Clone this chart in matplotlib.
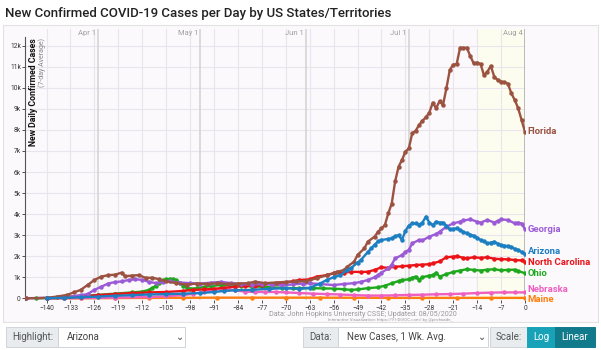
import matplotlib.pyplot as plt
from matplotlib.patches import Rectangle

# valeurs (milliers de cas, moyenne 7 jours), jour 0 = Aug 4
fl_jours = [-146, -140, -137, -134, -132, -130, -128, -126, -124, -122, -120, -118, -117, -115,
            -113, -111, -109, -107, -105, -102, -99, -96, -93, -90, -87, -84, -81, -79, -76, -73,
            -70, -67, -64, -61, -58, -56, -55, -53, -52, -50, -49, -47, -46, -44, -43, -42, -41,
            -40, -39, -38, -37, -36, -35, -34, -33, -32, -31, -30, -29, -28, -27, -26, -25, -24,
            -23, -22, -21, -20, -19, -18, -17, -16, -15, -14, -13, -12, -11, -10, -9, -8, -7,
            -6, -5, -4, -3, -2, -1, 0]
fl_cas = [0, 0.02, 0.08, 0.16, 0.28, 0.4, 0.63, 0.87, 1.03, 1.1, 1.12, 1.22, 1.05, 1.08,
          1.1, 0.97, 0.98, 0.9, 0.8, 0.72, 0.65, 0.7, 0.68, 0.72, 0.68, 0.7, 0.72, 0.79, 0.72, 0.75,
          0.78, 0.8, 0.82, 0.95, 1.1, 1.19, 1.26, 1.34, 1.5, 1.74, 2.06, 2.37, 2.69, 2.93, 3.16, 3.32, 3.48,
          4.04, 4.5, 5.55, 6.25, 6.57, 6.96, 7.12, 7.84, 7.96, 8.23, 8.44, 8.6, 8.82, 9.29, 9.03, 9.37, 9.18,
          9.98, 10.85, 11.1, 11.13, 11.9, 11.9, 11.9, 11.5, 11.16, 11.2, 11.13, 10.6, 10.77, 11.04, 10.53, 10.37, 10.3,
          10.27, 10.2, 9.74, 9.42, 9.03, 8.47, 7.91]

ga_jours = [-146, -140, -135, -130, -128, -126, -124, -122, -120, -118, -116, -114, -112, -110,
            -108, -106, -104, -101, -98, -95, -92, -89, -86, -83, -80, -77, -74, -71, -68, -65,
            -63, -60, -56, -53, -50, -48, -46, -44, -43, -42, -40, -39, -38, -36, -35, -34, -33,
            -31, -30, -28, -26, -25, -23, -21, -19, -18, -16, -14, -13, -11, -9, -8, -7, -5, -3,
            -2, -1, 0]
ga_cas = [0, 0.02, 0.05, 0.15, 0.2, 0.4, 0.55, 0.7, 0.77, 0.8, 0.87, 0.9, 0.88, 0.78,
          0.72, 0.76, 0.8, 0.75, 0.72, 0.7, 0.74, 0.78, 0.72, 0.68, 0.65, 0.68, 0.65, 0.62, 0.66, 0.7,
          0.71, 0.68, 0.63, 0.68, 0.72, 0.78, 0.87, 1.0, 1.1, 1.22, 1.42, 1.6, 1.9, 2.05, 2.21, 2.3, 2.61,
          2.77, 2.75, 2.93, 3.05, 3.16, 3.4, 3.56, 3.64, 3.7, 3.75, 3.64, 3.6, 3.72, 3.6, 3.68, 3.75, 3.72, 3.56,
          3.6, 3.55, 3.28]

az_jours = [-140, -135, -130, -125, -120, -115, -110, -105, -100, -95, -91, -88, -85, -80, -75,
            -70, -66, -63, -60, -58, -56, -54, -52, -51, -49, -48, -46, -45, -44, -43, -42, -40,
            -39, -38, -37, -36, -35, -34, -33, -32, -31, -30, -29, -28, -27, -26, -25, -24, -23,
            -22, -21, -20, -19, -18, -17, -16, -15, -14, -13, -12, -11, -10, -9, -8, -7, -6, -5,
            -4, -3, -2, -1, 0]
az_cas = [0, 0.02, 0.05, 0.08, 0.12, 0.15, 0.18, 0.2, 0.22, 0.25, 0.3, 0.35, 0.38, 0.4, 0.45,
          0.48, 0.45, 0.5, 0.7, 0.87, 1.0, 1.1, 1.35, 1.42, 1.7, 1.82, 2.2, 2.37, 2.55, 2.7, 2.77, 2.82,
          2.85, 2.95, 3.0, 2.77, 3.2, 3.45, 3.56, 3.56, 3.5, 3.6, 3.88, 3.6, 3.48, 3.64, 3.6, 3.6, 3.45,
          3.28, 3.3, 3.32, 3.25, 3.15, 3.09, 3.02, 2.97, 2.88, 2.77, 2.7, 2.61, 2.65, 2.69, 2.6, 2.53, 2.5, 2.48,
          2.45, 2.35, 2.29, 2.2, 2.1]

nc_jours = [-140, -135, -130, -125, -120, -115, -110, -105, -100, -97, -94, -91, -88, -85, -82,
            -79, -77, -74, -71, -68, -66, -63, -61, -58, -56, -53, -51, -48, -46, -44, -42, -40,
            -38, -36, -34, -32, -30, -28, -27, -25, -23, -21, -20, -18, -17, -15, -13, -11, -9,
            -7, -5, -3, -1, 0]
nc_cas = [0, 0.03, 0.08, 0.15, 0.2, 0.25, 0.28, 0.3, 0.35, 0.4, 0.42, 0.45, 0.5, 0.55, 0.58,
          0.6, 0.63, 0.7, 0.75, 0.8, 0.87, 0.9, 1.03, 1.1, 1.19, 1.22, 1.26, 1.25, 1.26, 1.35, 1.47, 1.45,
          1.5, 1.52, 1.55, 1.58, 1.6, 1.62, 1.66, 1.75, 1.95, 1.98, 2.0, 1.92, 1.9, 1.95, 1.92, 1.95, 1.88,
          1.86, 1.85, 1.82, 1.8, 1.74]

oh_jours = [-143, -140, -135, -130, -125, -120, -115, -112, -110, -109, -108, -107, -106, -105,
            -104, -103, -102, -101, -100, -99, -98, -96, -94, -92, -89, -86, -83, -80, -77, -74,
            -71, -68, -66, -62, -59, -56, -53, -51, -49, -46, -43, -41, -39, -37, -36, -34, -33,
            -32, -31, -30, -28, -27, -26, -25, -23, -21, -19, -17, -15, -13, -11, -9, -7, -5, -3,
            -2, 0]
oh_cas = [0, 0.01, 0.05, 0.1, 0.16, 0.22, 0.28, 0.32, 0.4, 0.5, 0.6, 0.75, 0.85, 0.9,
          0.92, 0.9, 0.85, 0.75, 0.6, 0.5, 0.46, 0.48, 0.53, 0.58, 0.63, 0.62, 0.6, 0.56, 0.55, 0.52,
          0.5, 0.48, 0.48, 0.48, 0.47, 0.46, 0.43, 0.4, 0.42, 0.48, 0.52, 0.6, 0.71, 0.82, 0.87, 0.9, 0.98,
          1.03, 0.88, 1.0, 1.08, 1.1, 1.22, 1.03, 1.15, 1.25, 1.32, 1.38, 1.35, 1.32, 1.36, 1.38, 1.33, 1.35, 1.36,
          1.3, 1.19]

ne_jours = [-140, -130, -120, -110, -105, -100, -97, -94, -91, -89, -87, -85, -82, -79, -76,
            -73, -70, -66, -62, -58, -54, -50, -46, -42, -38, -34, -30, -26, -22, -18, -14, -10,
            -6, -3, 0]
ne_cas = [0, 0.01, 0.03, 0.06, 0.1, 0.15, 0.22, 0.3, 0.4, 0.45, 0.44, 0.38, 0.32, 0.3, 0.3,
          0.3, 0.28, 0.25, 0.22, 0.2, 0.18, 0.15, 0.13, 0.13, 0.14, 0.16, 0.17, 0.19, 0.2, 0.22, 0.25, 0.27,
          0.28, 0.28, 0.28]

me_jours = [-140, -130, -120, -110, -100, -90, -80, -70, -60, -50, -40, -30, -20, -10, 0]
me_cas = [0, 0, 0.01, 0.02, 0.025, 0.03, 0.03, 0.03, 0.03, 0.025, 0.02, 0.02, 0.02, 0.02, 0.02]

# (nom, jours, valeurs, couleur, décalage vertical de l'étiquette en milliers)
etats = [
    ("Maine", me_jours, me_cas, "#ff7f0e", -0.06),
    ("Nebraska", ne_jours, ne_cas, "#ee5fc0", 0.15),
    ("Ohio", oh_jours, oh_cas, "#1ea81e", 0),
    ("North Carolina", nc_jours, nc_cas, "#ec1318", -0.03),
    ("Georgia", ga_jours, ga_cas, "#9c5bd6", 0),
    ("Florida", fl_jours, fl_cas, "#9b5240", 0),
    ("Arizona", az_jours, az_cas, "#1c7fc2", 0.12),
]

mois_jours = [-125, -95, -64, -34, 0]
mois_noms = ["Apr 1", "May 1", "Jun 1", "Jul 1", "Aug 4"]

W, H = 601, 350
plt.rcParams['font.family'] = ['Roboto', 'DejaVu Sans']
fig = plt.figure(figsize=(W / 100, H / 100), dpi=100, facecolor="white")

# cadre du graphique
fig.patches.append(Rectangle((3 / W, 1 - 322 / H), 595 / W, 297 / H, transform=fig.transFigure,
                             facecolor="#fbf9fc", edgecolor="#e2e2e2", lw=0.8, zorder=-10))

ax = fig.add_axes([25 / W, 1 - 300.4 / H, 500 / W, 271.5 / H])
ax.set_facecolor("none")
ax.set_xlim(-146.3, 0)
ax.set_ylim(-0.1, 12.8)

ax.axvspan(-14, 0, color="#fdfdef", zorder=0)
for d in range(-140, 1, 7):
    ax.axvline(d, color="#e9e4ee", lw=0.8, zorder=1)
for v in range(0, 13):
    ax.axhline(v, color="#e9e4ee", lw=0.8, zorder=1)
for d, nom in zip(mois_jours, mois_noms):
    ax.axvline(d, color="#a8a8a8" if d == 0 else "#d2d2d2", lw=1.1, zorder=1)
    ax.text(d - 0.6, 12.62, nom, ha="right", va="center", fontsize=5.5, color="#a0a0a0")

for nom, jours, cas, couleur, dy in etats:
    ax.plot(jours, cas, color=couleur, lw=1.7, marker="o", ms=2.2, zorder=3)
    ax.text(0.8, cas[-1] + dy, nom, color=couleur, fontsize=6.8, fontweight="bold",
            ha="left", va="center", clip_on=False)

for s in ["top", "right", "bottom"]:
    ax.spines[s].set_visible(False)
ax.spines["left"].set_bounds(-0.1, 12.4)
ax.spines["left"].set_color("#555555")
ax.set_yticks(range(0, 13))
ax.set_yticklabels([str(v) + ("k" if v else "") for v in range(0, 13)])
ax.set_xticks(range(-140, 1, 7))
ax.tick_params(axis="both", labelsize=4.8, colors="#333333", length=2, width=0.6, pad=1)

ax.text(-145.2, 12.35, "New Daily Confirmed Cases", rotation=90,
        ha="left", va="top", fontsize=6.3, fontweight="bold", color="#111111")
ax.text(-142.6, 12.35, "(7-day Average)", rotation=90, ha="left", va="top",
        fontsize=5, color="#888888")

fig.text(5 / W, 1 - 13 / H, "New Confirmed COVID-19 Cases per Day by US States/Territories",
         fontsize=9.5, fontweight="medium", color="#222222", va="center", ha="left")

fig.text(457 / W, 1 - 314.5 / H, "Data: John Hopkins University CSSE; Updated: 08/05/2020",
         fontsize=5.2, color="#999999", ha="right", va="center")
fig.text(452 / W, 1 - 320.5 / H, "Interactive Visualization: https://91-DIVOC.com/ by @profwade_",
         fontsize=3.2, color="#999999", ha="right", va="center")


def boite(x0, x1, couleur, bord="#ced4da"):
    fig.patches.append(Rectangle((x0 / W, 1 - 347 / H), (x1 - x0) / W, 20 / H,
                                 transform=fig.transFigure, facecolor=couleur,
                                 edgecolor=bord, lw=0.7))


boite(6, 58, "#e9ecef")
boite(58, 185, "white")
boite(303, 338, "#e9ecef")
boite(338, 488, "white")
boite(490, 527, "#e9ecef")
boite(527, 555, "#17a2b8", "#17a2b8")
boite(555, 595, "#117a8b", "#117a8b")

yc = 1 - 337 / H
fig.text(12 / W, yc, "Highlight:", fontsize=7, color="#555555", va="center")
fig.text(67 / W, yc, "Arizona", fontsize=7, color="#444444", va="center")
fig.text(180 / W, yc, "\u2304", fontsize=7, color="#444444", va="center", ha="center")
fig.text(309 / W, yc, "Data:", fontsize=7, color="#555555", va="center")
fig.text(347 / W, yc, "New Cases, 1 Wk. Avg.", fontsize=7, color="#444444", va="center")
fig.text(482 / W, yc, "\u2304", fontsize=7, color="#444444", va="center", ha="center")
fig.text(496 / W, yc, "Scale:", fontsize=7, color="#555555", va="center")
fig.text(541 / W, yc, "Log", fontsize=7, color="white", va="center", ha="center")
fig.text(575 / W, yc, "Linear", fontsize=7, color="white", va="center", ha="center")

fig.savefig("out.png", dpi=100, facecolor="white")
